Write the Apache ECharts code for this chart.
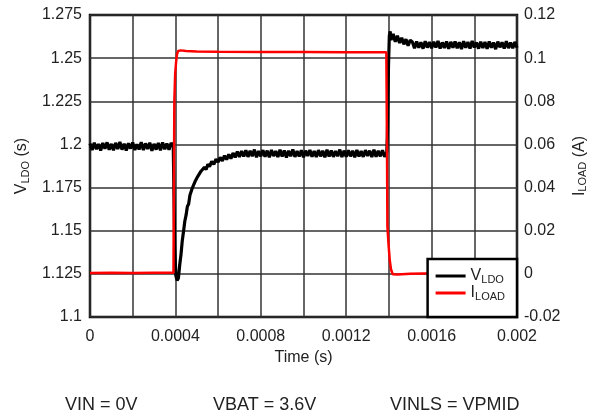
<!DOCTYPE html>
<html>
<head>
<meta charset="utf-8">
<script src="https://cdn.jsdelivr.net/npm/echarts@6/dist/echarts.min.js"></script>
<style>
  html, body { margin: 0; padding: 0; background: #fff; }
  #chart { width: 615px; height: 417px; }
</style>
</head>
<body>
<div id="chart"></div>
<script>
// V_LDO trace, time in microseconds
const vTime = [
  0, 10, 20, 30, 40, 50, 60, 70, 80, 90, 100, 110, 120, 130, 140, 150, 160, 170, 180, 190,
  200, 210, 220, 230, 240, 250, 260, 270, 280, 290, 300, 310, 320, 330, 340, 350, 360, 370, 380,
  390, 393, 397, 402, 408, 414, 420, 426, 432, 438, 444, 450, 456, 462, 468, 474, 480, 486, 492, 498,
  505, 512, 520, 528, 536, 544, 552, 560, 570, 580, 590, 600, 610, 620, 630, 640, 650, 660, 670, 680,
  690, 700, 710,
  720, 730, 740, 750, 760, 770, 780, 790, 800, 810, 820, 830, 840, 850, 860, 870, 880, 890, 900, 910,
  920, 930, 940, 950, 960, 970, 980, 990, 1000, 1010, 1020, 1030, 1040, 1050, 1060, 1070, 1080, 1090,
  1100, 1110, 1120, 1130, 1140, 1150, 1160, 1170, 1180, 1190, 1200, 1210, 1220, 1230, 1240, 1250,
  1260, 1270, 1280, 1290, 1300, 1310, 1320, 1330, 1340, 1350, 1360, 1370, 1380, 1390,
  1393, 1398, 1402, 1406, 1410, 1420, 1430, 1440, 1450, 1460, 1470, 1480, 1490, 1500,
  1510, 1520, 1530, 1540, 1550, 1560, 1570, 1580, 1590, 1600, 1610, 1620, 1630, 1640, 1650, 1660,
  1670, 1680, 1690, 1700, 1710, 1720, 1730, 1740, 1750, 1760, 1770, 1780, 1790, 1800, 1810, 1820,
  1830, 1840, 1850, 1860, 1870, 1880, 1890, 1900, 1910, 1920, 1930, 1940, 1950, 1960, 1970, 1980,
  1990, 2000
];
const vLdo = [
  1.2005, 1.1968, 1.2010, 1.1972, 1.2002, 1.1965, 1.2008, 1.1975, 1.2012, 1.1969, 1.2003, 1.1966, 1.2009, 1.1973, 1.2015, 1.1970, 1.2004, 1.1964, 1.2007, 1.1976,
  1.2011, 1.1968, 1.2001, 1.1971, 1.2013, 1.1967, 1.2006, 1.1974, 1.2010, 1.1963, 1.2003, 1.1970, 1.2008, 1.1966, 1.2012, 1.1972, 1.2005, 1.1969, 1.2009,
  1.1990, 1.1730, 1.1400, 1.1240, 1.1212, 1.1225, 1.1300, 1.1360, 1.1440, 1.1495, 1.1555, 1.1590, 1.1640, 1.1655, 1.1705, 1.1710, 1.1750, 1.1748, 1.1785, 1.1780,
  1.1815, 1.1808, 1.1845, 1.1835, 1.1868, 1.1855, 1.1885, 1.1872, 1.1902, 1.1885, 1.1915, 1.1898, 1.1925, 1.1905, 1.1935, 1.1912, 1.1942, 1.1918, 1.1950, 1.1925,
  1.1958, 1.1928, 1.1962,
  1.1930, 1.1966, 1.1928, 1.1963, 1.1932, 1.1970, 1.1926, 1.1962, 1.1931, 1.1967, 1.1929, 1.1964, 1.1925, 1.1968, 1.1933, 1.1961, 1.1927, 1.1969, 1.1930, 1.1965,
  1.1924, 1.1963, 1.1932, 1.1971, 1.1928, 1.1962, 1.1930, 1.1966, 1.1926, 1.1964, 1.1933, 1.1968, 1.1929, 1.1961, 1.1927, 1.1967, 1.1931, 1.1963,
  1.1925, 1.1969, 1.1930, 1.1965, 1.1928, 1.1962, 1.1932, 1.1970, 1.1927, 1.1964, 1.1929, 1.1966, 1.1931, 1.1963, 1.1926, 1.1968,
  1.1930, 1.1962, 1.1928, 1.1967, 1.1933, 1.1964, 1.1927, 1.1969, 1.1929, 1.1963, 1.1931, 1.1966, 1.1928, 1.1955,
  1.2050, 1.2450, 1.2630, 1.2655, 1.2605, 1.2640, 1.2595, 1.2630, 1.2588, 1.2618, 1.2580, 1.2610, 1.2572, 1.2604,
  1.2594, 1.2558, 1.2596, 1.2560, 1.2592, 1.2555, 1.2598, 1.2561, 1.2593, 1.2557, 1.2595, 1.2562, 1.2599, 1.2556, 1.2591, 1.2559,
  1.2597, 1.2554, 1.2594, 1.2561, 1.2596, 1.2557, 1.2592, 1.2553, 1.2598, 1.2560, 1.2593, 1.2556, 1.2600, 1.2562, 1.2591, 1.2555,
  1.2595, 1.2559, 1.2593, 1.2554, 1.2597, 1.2561, 1.2590, 1.2552, 1.2596, 1.2563, 1.2592, 1.2556, 1.2598, 1.2558, 1.2591, 1.2557,
  1.2594, 1.2560
];

// I_LOAD trace, time in microseconds
const iTime = [0, 100, 200, 300, 391, 393, 395, 399, 404, 408, 413, 425, 450, 500, 600, 800, 1000, 1200, 1388,
  1391, 1393, 1398, 1404, 1410, 1418, 1440, 1500, 1560, 1700, 2000];
const iLoad = [0.0004, 0.0005, 0.0004, 0.0005, 0.0005, 0.0400, 0.0800, 0.0930, 0.0990, 0.1020, 0.1033, 0.1036, 0.1033, 0.1031, 0.1030, 0.1029, 0.1028, 0.1027, 0.1027,
  0.0600, 0.0220, 0.0140, 0.0064, 0.0020, -0.0002, -0.0003, 0.0000, 0.0002, 0.0002, 0.0002];

const notes = ['VIN = 0V', 'VBAT = 3.6V', 'VINLS = VPMID'];

const toPts = (ts, vs) => ts.map((t, i) => [t / 1e6, vs[i]]);

const textColor = '#222';
const font = 'Liberation Sans, Arial, sans-serif';

const chart = echarts.init(document.getElementById('chart'), null, { renderer: 'canvas' });

const subRich = {
  m: { fontSize: 16, color: textColor, fontFamily: font, lineHeight: 18 },
  s: { fontSize: 11, color: textColor, fontFamily: font, lineHeight: 11, verticalAlign: 'bottom' }
};

const option = {
  animation: false,
  backgroundColor: '#fff',
  grid: {
    left: 90, right: 98, top: 15, bottom: 100,
    show: true,
    borderColor: '#000',
    borderWidth: 2.5,
    backgroundColor: 'transparent'
  },
  xAxis: {
    type: 'value',
    min: 0, max: 0.002, interval: 0.0002,
    name: 'Time (s)',
    nameLocation: 'middle',
    nameGap: 31,
    nameTextStyle: { color: textColor, fontSize: 16, fontFamily: font },
    axisLine: { show: false },
    axisTick: { show: false },
    splitLine: { lineStyle: { color: '#333', width: 1.5 } },
    axisLabel: {
      color: textColor, fontSize: 16, fontFamily: font, margin: 12,
      formatter: v => (Math.round(v * 1e4) % 4 === 0 ? String(+v.toFixed(4)) : '')
    }
  },
  yAxis: [
    {
      type: 'value',
      min: 1.1, max: 1.275, interval: 0.025,
      name: '{m|V}{s|LDO}{m| (s)}',
      nameLocation: 'middle',
      nameRotate: 90,
      nameGap: 58,
      nameTextStyle: { fontFamily: font, rich: subRich },
      axisLine: { show: false },
      axisTick: { show: false },
      splitLine: { lineStyle: { color: '#333', width: 1.5 } },
      axisLabel: {
        color: textColor, fontSize: 16, fontFamily: font, margin: 8,
        formatter: v => String(+v.toFixed(3))
      }
    },
    {
      type: 'value',
      min: -0.02, max: 0.12, interval: 0.02,
      name: '{m|I}{s|LOAD}{m| (A)}',
      nameLocation: 'middle',
      nameRotate: 90,
      nameGap: 53,
      nameTextStyle: { fontFamily: font, rich: subRich },
      axisLine: { show: false },
      axisTick: { show: false },
      splitLine: { show: false },
      axisLabel: {
        color: textColor, fontSize: 16, fontFamily: font, margin: 7,
        formatter: v => String(+v.toFixed(2))
      }
    }
  ],
  legend: {
    data: ['VLDO', 'ILOAD'],
    orient: 'vertical',
    right: 98, bottom: 100,
    padding: [9, 12, 15, 8],
    itemGap: 0,
    icon: 'rect',
    itemWidth: 30,
    itemHeight: 3,
    backgroundColor: '#fff',
    borderColor: '#000',
    borderWidth: 2.5,
    borderRadius: 0,
    formatter: name => name === 'VLDO' ? '{m|V}{s|LDO}' : '{m|I}{s|LOAD}',
    textStyle: { rich: subRich }
  },
  series: [
    {
      name: 'VLDO',
      type: 'line',
      yAxisIndex: 0,
      symbol: 'none',
      color: '#000',
      lineStyle: { color: '#000', width: 3.2 },
      data: toPts(vTime, vLdo)
    },
    {
      name: 'ILOAD',
      type: 'line',
      yAxisIndex: 1,
      symbol: 'none',
      color: '#ff0000',
      lineStyle: { color: '#ff0000', width: 2.5 },
      data: toPts(iTime, iLoad)
    }
  ],
  graphic: [
    { type: 'text', left: 65, top: 396, style: { text: notes[0], fill: textColor, font: '18px ' + font } },
    { type: 'text', left: 213, top: 396, style: { text: notes[1], fill: textColor, font: '18px ' + font } },
    { type: 'text', left: 390, top: 396, style: { text: notes[2], fill: textColor, font: '18px ' + font } }
  ]
};

chart.setOption(option);
</script>
</body>
</html>
